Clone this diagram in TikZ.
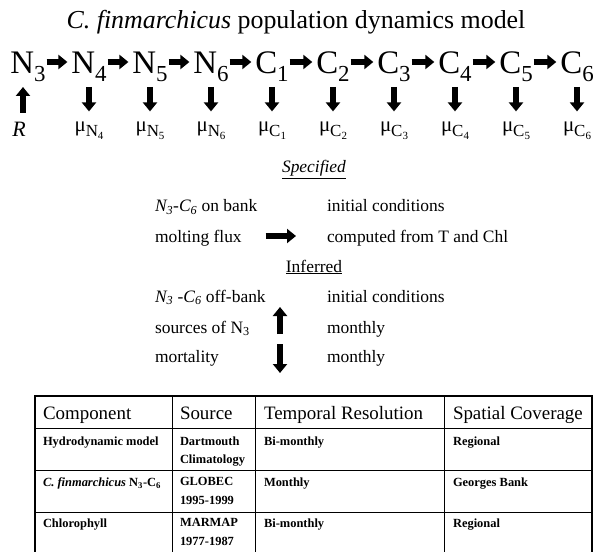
\documentclass[tikz,border=0pt]{standalone}
\usepackage{fontspec}
\setmainfont{Liberation Serif}
\usetikzlibrary{arrows.meta}

% stage name with a lowered number
\newcommand{\stg}[2]{#1\raisebox{-8bp}{\fontsize{23}{23}\selectfont #2}}
% mortality label: mu with a stage as subscript
\newcommand{\mrt}[2]{μ\raisebox{-5bp}{\fontsize{17}{17}\selectfont #1\raisebox{-2.5bp}{\fontsize{11}{11}\selectfont #2}}}

\begin{document}
\begin{tikzpicture}[x = 1bp, y = -1bp, % image pixels, y going down
                > = {Triangle[length = 9bp, width = 14bp]}, % fat arrow head
                node distance = 61bp, % distance between stages
                semithick % line style
            ]

            \tikzstyle{every node}=[inner sep = 0pt, outer sep = 0pt]
            \tikzstyle{stage}=[font = \fontsize{33}{33}\selectfont, text height = 24bp, text depth = 0pt]
            \tikzstyle{fat}=[->, line width = 5.5bp]
            \tikzstyle{moult}=[fat, shorten <= 1bp, shorten >= 4bp]
            \tikzstyle{drop}=[fat, shorten <= 13bp, shorten >= 11bp]
            \tikzstyle{rise}=[fat, shorten <= 10bp, shorten >= 13bp]
            \tikzstyle{mort}=[font = \fontsize{21}{21}\selectfont, anchor = base]
            \tikzstyle{txt}=[font = \fontsize{17.5}{17.5}\selectfont, anchor = base west, text height = 12bp, text depth = 0pt]
            \tikzstyle{head}=[font = \fontsize{19}{19}\selectfont, anchor = base west]
            \tikzstyle{cell}=[font = \fontsize{12.5}{18.5}\selectfont\bfseries, anchor = north west, align = left]

            \useasboundingbox (0,0) rectangle (595,552);

            \node (title) at (296,29) [anchor = base, font = \fontsize{26}{26}\selectfont]
            {\textit{C. finmarchicus} population dynamics model};

            % stages
            \node (N3) at (28,62) [stage] {\stg{N}{3}};
            \node (N4) [stage, right of=N3] {\stg{N}{4}};
            \node (N5) [stage, right of=N4] {\stg{N}{5}};
            \node (N6) [stage, right of=N5] {\stg{N}{6}};
            \node (C1) [stage, right of=N6] {\stg{C}{1}};
            \node (C2) [stage, right of=C1] {\stg{C}{2}};
            \node (C3) [stage, right of=C2] {\stg{C}{3}};
            \node (C4) [stage, right of=C3] {\stg{C}{4}};
            \node (C5) [stage, right of=C4] {\stg{C}{5}};
            \node (C6) [stage, right of=C5] {\stg{C}{6}};

            \draw[moult] (N3) -- (N4); \draw[moult] (N4) -- (N5); \draw[moult] (N5) -- (N6);
            \draw[moult] (N6) -- (C1); \draw[moult] (C1) -- (C2); \draw[moult] (C2) -- (C3);
            \draw[moult] (C3) -- (C4); \draw[moult] (C4) -- (C5); \draw[moult] (C5) -- (C6);

            % recruitment and mortality
            \node (R) [below of=N3, node distance = 75bp, mort, xshift = -9bp,
                font = \fontsize{22}{22}\selectfont] {\textit{R}};
            \node (mN4) [below of=N4, node distance = 70bp, mort] {\mrt{N}{4}};
            \node (mN5) [below of=N5, node distance = 70bp, mort] {\mrt{N}{5}};
            \node (mN6) [below of=N6, node distance = 70bp, mort] {\mrt{N}{6}};
            \node (mC1) [below of=C1, node distance = 70bp, mort] {\mrt{C}{1}};
            \node (mC2) [below of=C2, node distance = 70bp, mort] {\mrt{C}{2}};
            \node (mC3) [below of=C3, node distance = 70bp, mort] {\mrt{C}{3}};
            \node (mC4) [below of=C4, node distance = 70bp, mort] {\mrt{C}{4}};
            \node (mC5) [below of=C5, node distance = 70bp, mort] {\mrt{C}{5}};
            \node (mC6) [below of=C6, node distance = 70bp, mort] {\mrt{C}{6}};

            \draw[rise] ([xshift = 4bp]R.north) -- ([xshift = 4bp]R.north |- N3.south);
            \draw[drop] (mN4.north |- N4.south) -- (mN4.north);
            \draw[drop] (mN5.north |- N5.south) -- (mN5.north);
            \draw[drop] (mN6.north |- N6.south) -- (mN6.north);
            \draw[drop] (mC1.north |- C1.south) -- (mC1.north);
            \draw[drop] (mC2.north |- C2.south) -- (mC2.north);
            \draw[drop] (mC3.north |- C3.south) -- (mC3.north);
            \draw[drop] (mC4.north |- C4.south) -- (mC4.north);
            \draw[drop] (mC5.north |- C5.south) -- (mC5.north);
            \draw[drop] (mC6.north |- C6.south) -- (mC6.north);

            % specified and inferred inputs
            \node (spec) at (314,173) [txt, anchor = base] {\underline{\textit{Specified}}};
            \node (onb) at (155,212) [txt] {\textit{N\textsubscript{3}}-\textit{C\textsubscript{6}} on bank};
            \node (ini1) at (327,212) [txt] {initial conditions};
            \node (mfl) at (155,242) [txt] {molting flux};
            \node (cmp) at (327,242) [txt] {computed from T and Chl};
            \draw[fat, shorten <= 24bp, shorten >= 31bp] (mfl) -- (cmp);

            \node (infr) at (314,272) [txt, anchor = base] {\underline{Inferred}};
            \node (offb) at (155,302) [txt] {\textit{N\textsubscript{3}} -\textit{C\textsubscript{6}} off-bank};
            \node (ini2) at (327,302) [txt] {initial conditions};
            \node (src) at (155,333) [txt] {sources of N\textsubscript{3}};
            \node (mon1) at (327,333) [txt] {monthly};
            \node (mrt) at (155,362) [txt] {mortality};
            \node (mon2) at (327,362) [txt] {monthly};

            \coordinate (upA) at (280,334); \coordinate (upB) at (280,307);
            \coordinate (dnA) at (280,344); \coordinate (dnB) at (280,373);
            \draw[fat] (upA) -- (upB);
            \draw[fat] (dnA) -- (dnB);

            % data table
            \draw[line width = 2.2bp] (35,552) -- (35,396) -- (592,396) -- (592,552);
            \draw[line width = 1bp] (35,428) -- (592,428);
            \draw[line width = 1bp] (35,470) -- (592,470);
            \draw[line width = 1bp] (35,512) -- (592,512);
            \draw[line width = 1bp] (172,396) -- (172,552);
            \draw[line width = 1bp] (255,396) -- (255,552);
            \draw[line width = 1bp] (444,396) -- (444,552);

            \node (hcomp) at (43,419) [head] {Component};
            \node (hsrc) at (180,419) [head] {Source};
            \node (htmp) at (264,419) [head] {Temporal Resolution};
            \node (hspc) at (453,419) [head] {Spatial Coverage};

            \node (hydro) at (43,436.5) [cell] {Hydrodynamic model};
            \node (dart) at (180,436.5) [cell] {Dartmouth\\Climatology};
            \node (bim1) at (264,436.5) [cell] {Bi-monthly};
            \node (reg1) at (453,436.5) [cell] {Regional};

            \node (cfin) at (43,477.5) [cell] {\textit{C. finmarchicus} N\textsubscript{3}-C\textsubscript{6}};
            \node (glob) at (180,477.5) [cell] {GLOBEC\\1995-1999};
            \node (mnth) at (264,477.5) [cell] {Monthly};
            \node (gbank) at (453,477.5) [cell] {Georges Bank};

            \node (chl) at (43,518.5) [cell] {Chlorophyll};
            \node (marm) at (180,518.5) [cell] {MARMAP\\1977-1987};
            \node (bim2) at (264,518.5) [cell] {Bi-monthly};
            \node (reg2) at (453,518.5) [cell] {Regional};
        \end{tikzpicture}
\end{document}
